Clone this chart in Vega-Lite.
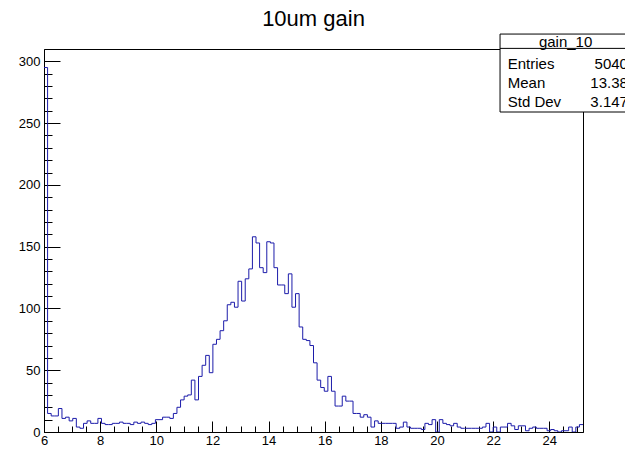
{
  "$schema": "https://vega.github.io/schema/vega-lite/v6.json",
  "width": 539,
  "height": 383,
  "autosize": {"type": "none"},
  "padding": {"left": 44, "top": 49, "right": 42, "bottom": 17},
  "background": "white",
  "config": {
    "view": {"stroke": "black", "strokeWidth": 1},
    "font": "Liberation Sans",
    "axis": {"grid": false, "domainColor": "black", "tickColor": "black", "labelColor": "black", "labelFont": "Liberation Sans", "labelFontSize": 13, "labelOverlap": false, "labelFlush": false, "title": null}
  },
  "title": {"text": "10um gain", "font": "Liberation Sans", "fontSize": 22, "fontWeight": "normal", "anchor": "middle", "frame": "group", "offset": 3, "color": "black"},
  "resolve": {"axis": {"x": "independent", "y": "independent"}},
  "datasets": {
    "hist": [
      {"x": 6, "n": 295}, {"x": 6.128, "n": 15}, {"x": 6.256, "n": 13}, {"x": 6.384, "n": 13}, {"x": 6.512, "n": 19},
      {"x": 6.64, "n": 11}, {"x": 6.768, "n": 12}, {"x": 6.896, "n": 9}, {"x": 7.024, "n": 11}, {"x": 7.152, "n": 4},
      {"x": 7.28, "n": 3}, {"x": 7.408, "n": 7}, {"x": 7.536, "n": 9}, {"x": 7.664, "n": 7}, {"x": 7.792, "n": 7},
      {"x": 7.92, "n": 11}, {"x": 8.048, "n": 7}, {"x": 8.176, "n": 6}, {"x": 8.304, "n": 6}, {"x": 8.432, "n": 7},
      {"x": 8.56, "n": 7}, {"x": 8.688, "n": 8}, {"x": 8.816, "n": 7}, {"x": 8.944, "n": 7}, {"x": 9.072, "n": 6},
      {"x": 9.2, "n": 8}, {"x": 9.328, "n": 7}, {"x": 9.456, "n": 8}, {"x": 9.584, "n": 7}, {"x": 9.712, "n": 6},
      {"x": 9.84, "n": 7}, {"x": 9.968, "n": 10}, {"x": 10.096, "n": 10}, {"x": 10.224, "n": 12}, {"x": 10.352, "n": 12},
      {"x": 10.48, "n": 11}, {"x": 10.608, "n": 15}, {"x": 10.736, "n": 20}, {"x": 10.864, "n": 26}, {"x": 10.992, "n": 29},
      {"x": 11.12, "n": 30}, {"x": 11.248, "n": 42}, {"x": 11.376, "n": 26}, {"x": 11.504, "n": 45}, {"x": 11.632, "n": 54},
      {"x": 11.76, "n": 62}, {"x": 11.888, "n": 48}, {"x": 12.016, "n": 71}, {"x": 12.144, "n": 75}, {"x": 12.272, "n": 82},
      {"x": 12.4, "n": 90}, {"x": 12.528, "n": 103}, {"x": 12.656, "n": 105}, {"x": 12.784, "n": 101}, {"x": 12.912, "n": 122},
      {"x": 13.04, "n": 106}, {"x": 13.168, "n": 124}, {"x": 13.296, "n": 132}, {"x": 13.424, "n": 158}, {"x": 13.552, "n": 153},
      {"x": 13.68, "n": 133}, {"x": 13.808, "n": 129}, {"x": 13.936, "n": 154}, {"x": 14.064, "n": 153}, {"x": 14.192, "n": 133},
      {"x": 14.32, "n": 119}, {"x": 14.448, "n": 119}, {"x": 14.576, "n": 112}, {"x": 14.704, "n": 128}, {"x": 14.832, "n": 101},
      {"x": 14.96, "n": 112}, {"x": 15.088, "n": 85}, {"x": 15.216, "n": 75}, {"x": 15.344, "n": 74}, {"x": 15.472, "n": 70},
      {"x": 15.6, "n": 56}, {"x": 15.728, "n": 42}, {"x": 15.856, "n": 36}, {"x": 15.984, "n": 33}, {"x": 16.112, "n": 45},
      {"x": 16.24, "n": 33}, {"x": 16.368, "n": 21}, {"x": 16.496, "n": 21}, {"x": 16.624, "n": 29}, {"x": 16.752, "n": 25},
      {"x": 16.88, "n": 25}, {"x": 17.008, "n": 15}, {"x": 17.136, "n": 15}, {"x": 17.264, "n": 12}, {"x": 17.392, "n": 14},
      {"x": 17.52, "n": 12}, {"x": 17.648, "n": 4}, {"x": 17.776, "n": 9}, {"x": 17.904, "n": 7}, {"x": 18.032, "n": 7},
      {"x": 18.16, "n": 7}, {"x": 18.288, "n": 7}, {"x": 18.416, "n": 7}, {"x": 18.544, "n": 3}, {"x": 18.672, "n": 4},
      {"x": 18.8, "n": 8}, {"x": 18.928, "n": 4}, {"x": 19.056, "n": 3}, {"x": 19.184, "n": 3}, {"x": 19.312, "n": 3},
      {"x": 19.44, "n": 2}, {"x": 19.568, "n": 7}, {"x": 19.696, "n": 6}, {"x": 19.824, "n": 10}, {"x": 19.952, "n": 0},
      {"x": 20.08, "n": 10}, {"x": 20.208, "n": 7}, {"x": 20.336, "n": 6}, {"x": 20.464, "n": 5}, {"x": 20.592, "n": 7},
      {"x": 20.72, "n": 4}, {"x": 20.848, "n": 3}, {"x": 20.976, "n": 3}, {"x": 21.104, "n": 3}, {"x": 21.232, "n": 3},
      {"x": 21.36, "n": 3}, {"x": 21.488, "n": 3}, {"x": 21.616, "n": 4}, {"x": 21.744, "n": 7}, {"x": 21.872, "n": 0},
      {"x": 22.0, "n": 4}, {"x": 22.128, "n": 0}, {"x": 22.256, "n": 4}, {"x": 22.384, "n": 4}, {"x": 22.512, "n": 7},
      {"x": 22.64, "n": 5}, {"x": 22.768, "n": 2}, {"x": 22.896, "n": 5}, {"x": 23.024, "n": 5}, {"x": 23.152, "n": 1},
      {"x": 23.28, "n": 3}, {"x": 23.408, "n": 4}, {"x": 23.536, "n": 3}, {"x": 23.664, "n": 3}, {"x": 23.792, "n": 3},
      {"x": 23.92, "n": 1}, {"x": 24.048, "n": 2}, {"x": 24.176, "n": 1}, {"x": 24.304, "n": 0}, {"x": 24.432, "n": 1},
      {"x": 24.56, "n": 1}, {"x": 24.688, "n": 4}, {"x": 24.816, "n": 0}, {"x": 24.944, "n": 4}, {"x": 25.072, "n": 6},
      {"x": 25.2, "n": 6}
    ],
    "stats": [
      {"name": "gain_10", "entries": "5040", "mean": "13.38", "std": "3.147"}
    ]
  },
  "layer": [
    {
      "data": {"name": "hist"},
      "mark": {"type": "line", "interpolate": "step-after", "color": "#1c1caa", "strokeWidth": 1, "clip": true},
      "encoding": {
        "x": {
          "field": "x", "type": "quantitative",
          "scale": {"domain": [6, 25.2], "nice": false, "zero": false},
          "axis": {
            "values": [6, 6.5, 7, 7.5, 8, 8.5, 9, 9.5, 10, 10.5, 11, 11.5, 12, 12.5, 13, 13.5, 14, 14.5, 15, 15.5, 16, 16.5, 17, 17.5, 18, 18.5, 19, 19.5, 20, 20.5, 21, 21.5, 22, 22.5, 23, 23.5, 24, 24.5, 25],
            "labelExpr": "datum.value % 2 === 0 ? format(datum.value, 'd') : ''",
            "tickSize": {"condition": {"test": "datum.value % 2 === 0", "value": -11}, "value": -6},
            "labelPadding": 13,
            "labelBaseline": "top"
          }
        },
        "y": {
          "field": "n", "type": "quantitative",
          "scale": {"domain": [0, 310], "nice": false},
          "axis": {
            "values": [0, 10, 20, 30, 40, 50, 60, 70, 80, 90, 100, 110, 120, 130, 140, 150, 160, 170, 180, 190, 200, 210, 220, 230, 240, 250, 260, 270, 280, 290, 300],
            "labelExpr": "datum.value % 50 === 0 ? format(datum.value, 'd') : ''",
            "tickSize": {"condition": {"test": "datum.value % 50 === 0", "value": -16}, "value": -8},
            "labelPadding": 20
          }
        }
      }
    },
    {
      "data": {"name": "stats"},
      "mark": {"type": "rect", "fill": "white", "stroke": "black", "strokeWidth": 1, "clip": false},
      "encoding": {
        "x": {"datum": 22.245, "type": "quantitative", "axis": null},
        "x2": {"datum": 27.5},
        "y": {"datum": 322.1, "type": "quantitative", "axis": null},
        "y2": {"datum": 259.0}
      }
    },
    {
      "data": {"name": "stats"},
      "mark": {"type": "rule", "stroke": "black", "strokeWidth": 1, "clip": false},
      "encoding": {
        "x": {"datum": 22.245, "type": "quantitative", "axis": null},
        "x2": {"datum": 27.5},
        "y": {"datum": 310.5, "type": "quantitative", "axis": null}
      }
    },
    {
      "data": {"name": "stats"},
      "mark": {"type": "text", "align": "center", "baseline": "middle", "fontSize": 15, "font": "Liberation Sans", "color": "black", "clip": false},
      "encoding": {
        "x": {"datum": 24.58, "type": "quantitative", "axis": null},
        "y": {"datum": 315.3, "type": "quantitative", "axis": null},
        "text": {"field": "name"}
      }
    },
    {
      "data": {"name": "stats"},
      "mark": {"type": "text", "align": "left", "baseline": "middle", "fontSize": 15, "font": "Liberation Sans", "color": "black", "clip": false},
      "encoding": {
        "x": {"datum": 22.52, "type": "quantitative", "axis": null},
        "y": {"datum": 297.9, "type": "quantitative", "axis": null},
        "text": {"value": "Entries"}
      }
    },
    {
      "data": {"name": "stats"},
      "mark": {"type": "text", "align": "right", "baseline": "middle", "fontSize": 15, "font": "Liberation Sans", "color": "black", "clip": false},
      "encoding": {
        "x": {"datum": 26.8, "type": "quantitative", "axis": null},
        "y": {"datum": 297.9, "type": "quantitative", "axis": null},
        "text": {"field": "entries"}
      }
    },
    {
      "data": {"name": "stats"},
      "mark": {"type": "text", "align": "left", "baseline": "middle", "fontSize": 15, "font": "Liberation Sans", "color": "black", "clip": false},
      "encoding": {
        "x": {"datum": 22.52, "type": "quantitative", "axis": null},
        "y": {"datum": 282.5, "type": "quantitative", "axis": null},
        "text": {"value": "Mean"}
      }
    },
    {
      "data": {"name": "stats"},
      "mark": {"type": "text", "align": "right", "baseline": "middle", "fontSize": 15, "font": "Liberation Sans", "color": "black", "clip": false},
      "encoding": {
        "x": {"datum": 26.8, "type": "quantitative", "axis": null},
        "y": {"datum": 282.5, "type": "quantitative", "axis": null},
        "text": {"field": "mean"}
      }
    },
    {
      "data": {"name": "stats"},
      "mark": {"type": "text", "align": "left", "baseline": "middle", "fontSize": 15, "font": "Liberation Sans", "color": "black", "clip": false},
      "encoding": {
        "x": {"datum": 22.52, "type": "quantitative", "axis": null},
        "y": {"datum": 267.1, "type": "quantitative", "axis": null},
        "text": {"value": "Std Dev"}
      }
    },
    {
      "data": {"name": "stats"},
      "mark": {"type": "text", "align": "right", "baseline": "middle", "fontSize": 15, "font": "Liberation Sans", "color": "black", "clip": false},
      "encoding": {
        "x": {"datum": 26.8, "type": "quantitative", "axis": null},
        "y": {"datum": 267.1, "type": "quantitative", "axis": null},
        "text": {"field": "std"}
      }
    }
  ]
}
